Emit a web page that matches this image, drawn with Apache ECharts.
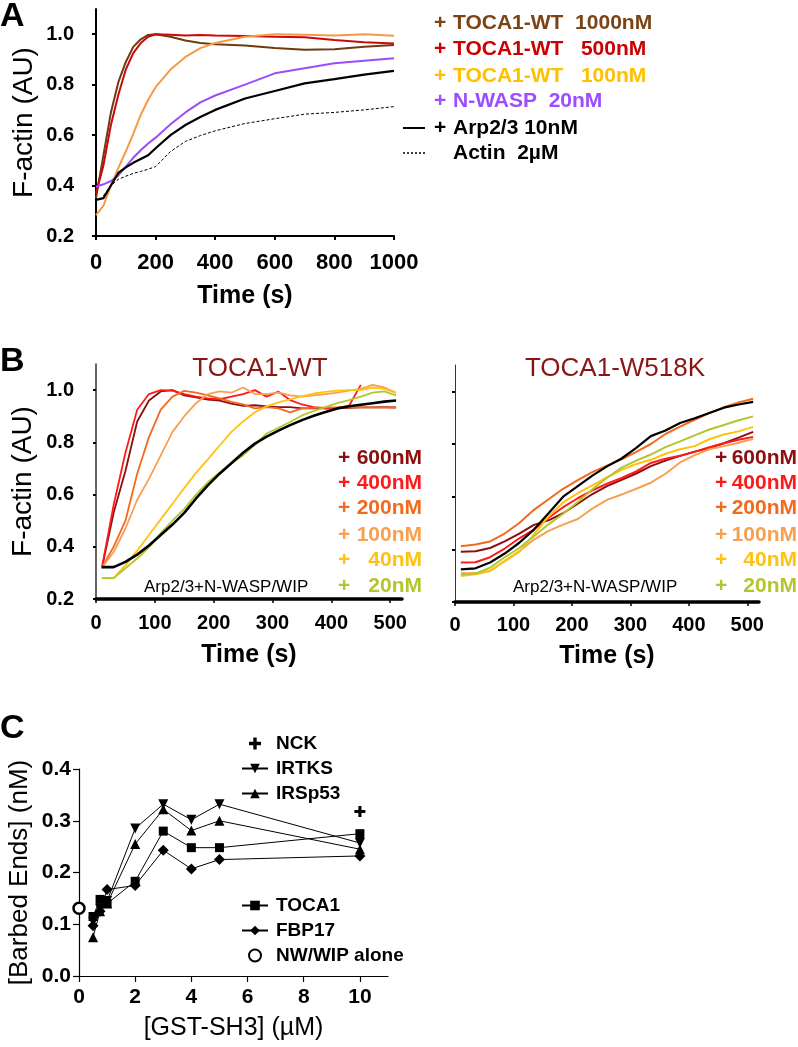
<!DOCTYPE html>
<html>
<head>
<meta charset="utf-8">
<script src="https://cdn.jsdelivr.net/npm/echarts@6/dist/echarts.min.js"></script>
<style>
  html, body { margin: 0; padding: 0; background: #fff; }
  #main { width: 798px; height: 1047px; }
</style>
</head>
<body>
<div id="main"></div>
<script>
// ---- panel A : time course, 0-1000 s
const aTime = [0, 25, 50, 75, 100, 125, 150, 175, 200, 250, 300, 350, 400, 500, 600, 700, 800, 900, 1000];
const aToca1000 = [0.35, 0.52, 0.69, 0.81, 0.89, 0.95, 0.98, 0.997, 1.0, 0.99, 0.975, 0.965, 0.96, 0.955, 0.945, 0.938, 0.94, 0.95, 0.957];
const aToca500 = [0.37, 0.48, 0.64, 0.76, 0.86, 0.925, 0.965, 0.99, 1.0, 0.998, 0.995, 0.997, 0.995, 0.993, 0.99, 0.988, 0.977, 0.968, 0.963];
const aToca100 = [0.283, 0.32, 0.4, 0.47, 0.535, 0.605, 0.68, 0.74, 0.79, 0.86, 0.91, 0.945, 0.965, 0.99, 1.0, 0.998, 0.995, 1.0, 0.994];
const aNwasp = [0.395, 0.405, 0.418, 0.44, 0.475, 0.51, 0.54, 0.567, 0.59, 0.643, 0.69, 0.73, 0.757, 0.8, 0.845, 0.865, 0.885, 0.895, 0.905];
const aArp = [0.343, 0.35, 0.4, 0.45, 0.472, 0.49, 0.505, 0.52, 0.548, 0.6, 0.64, 0.672, 0.7, 0.745, 0.775, 0.805, 0.822, 0.84, 0.855];
const aActin = [null, 0.36, 0.4, 0.425, 0.437, 0.448, 0.456, 0.465, 0.475, 0.535, 0.575, 0.598, 0.617, 0.646, 0.665, 0.683, 0.69, 0.7, 0.713];
const aNames = ['TOCA1-WT  1000nM', 'TOCA1-WT   500nM', 'TOCA1-WT   100nM', 'N-WASP  20nM', 'Arp2/3 10nM', 'Actin  2µM'];

// ---- panel B left : TOCA1-WT
const bTime = [10, 30, 50, 70, 90, 110, 130, 150, 170, 190, 210, 230, 250, 270, 290, 310, 330, 350, 370, 390, 410, 430, 450, 470, 490, 510];
const wt600 = [0.318, 0.53, 0.69, 0.88, 0.96, 0.995, 1.0, 0.98, 0.972, 0.964, 0.96, 0.948, 0.94, 0.942, 0.938, 0.935, 0.935, 0.93, 0.93, 0.93, 0.93, 0.932, 0.934, 0.934, 0.935, 0.934];
const wt400 = [0.32, 0.56, 0.76, 0.925, 0.985, 1.0, 0.998, 0.985, 0.975, 0.968, 0.965, 0.975, 0.985, 1.0, 0.975, 0.994, 0.962, 0.945, 0.935, 0.93, 0.93, 0.94, 1.02, null, null, null];
const wt200 = [0.32, 0.4, 0.5, 0.68, 0.82, 0.925, 0.975, 0.997, 0.99, 0.98, 0.968, 0.955, 0.945, 0.93, 0.935, 0.93, 0.915, 0.93, 0.932, 0.934, 0.934, 0.934, 0.934, 0.934, 0.934, 0.932];
const wt100 = [0.32, 0.38, 0.47, 0.58, 0.66, 0.75, 0.84, 0.9, 0.95, 0.985, 0.995, 0.99, 1.01, 0.985, 0.985, 0.99, 0.98, 0.975, 0.98, 0.985, 0.99, 0.998, 1.005, 1.02, 1.01, 0.99];
const wt40 = [0.28, 0.28, 0.33, 0.385, 0.445, 0.505, 0.565, 0.625, 0.683, 0.735, 0.788, 0.84, 0.88, 0.915, 0.938, 0.953, 0.965, 0.976, 0.987, 0.993, 0.998, 1.0, 1.0, 1.01, 1.005, 0.99];
const wt20 = [0.28, 0.28, 0.318, 0.355, 0.398, 0.452, 0.5, 0.545, 0.6, 0.647, 0.685, 0.72, 0.75, 0.79, 0.834, 0.856, 0.878, 0.903, 0.92, 0.935, 0.95, 0.962, 0.975, 0.99, 0.995, 0.98];
const wtBase = [0.322, 0.322, 0.342, 0.37, 0.405, 0.445, 0.485, 0.53, 0.585, 0.635, 0.68, 0.72, 0.76, 0.795, 0.822, 0.845, 0.866, 0.885, 0.902, 0.916, 0.93, 0.938, 0.944, 0.95, 0.956, 0.96];

// ---- panel B right : TOCA1-W518K
const kTime = [10, 35, 60, 85, 110, 135, 160, 185, 210, 235, 260, 285, 310, 335, 360, 385, 410, 435, 460, 485, 510];
const wk600 = [0.391, 0.393, 0.405, 0.43, 0.46, 0.493, 0.51, 0.537, 0.573, 0.61, 0.64, 0.664, 0.688, 0.716, 0.737, 0.755, 0.771, 0.785, 0.803, 0.824, 0.846];
const wk400 = [0.35, 0.351, 0.37, 0.403, 0.442, 0.475, 0.52, 0.56, 0.594, 0.624, 0.649, 0.671, 0.696, 0.728, 0.744, 0.755, 0.77, 0.788, 0.803, 0.816, 0.827];
const wk200 = [0.412, 0.418, 0.43, 0.46, 0.5, 0.55, 0.59, 0.63, 0.663, 0.693, 0.718, 0.742, 0.77, 0.8, 0.838, 0.866, 0.892, 0.917, 0.94, 0.958, 0.972];
const wk100 = [0.309, 0.309, 0.318, 0.355, 0.393, 0.437, 0.47, 0.494, 0.515, 0.555, 0.588, 0.608, 0.63, 0.653, 0.687, 0.73, 0.758, 0.78, 0.792, 0.805, 0.82];
const wk40 = [0.299, 0.305, 0.318, 0.355, 0.39, 0.457, 0.525, 0.578, 0.613, 0.643, 0.673, 0.702, 0.724, 0.74, 0.763, 0.78, 0.792, 0.818, 0.836, 0.848, 0.865];
const wk20 = [0.305, 0.308, 0.33, 0.37, 0.405, 0.45, 0.495, 0.535, 0.58, 0.628, 0.672, 0.71, 0.737, 0.76, 0.788, 0.81, 0.833, 0.855, 0.872, 0.89, 0.905];
const wkBase = [0.324, 0.328, 0.35, 0.384, 0.425, 0.475, 0.537, 0.6, 0.64, 0.68, 0.715, 0.745, 0.785, 0.83, 0.851, 0.88, 0.898, 0.918, 0.938, 0.95, 0.96];
const concs = ['600nM', '400nM', '200nM', '100nM', '40nM', '20nM'];

// ---- panel C : barbed ends vs GST-SH3
const cDose = [0.5, 0.75, 1, 2, 3, 4, 5, 10];
const cToca1 = [0.115, 0.148, 0.14, 0.183, 0.28, 0.248, 0.248, 0.275];
const cFbp17 = [0.097, 0.125, 0.167, 0.175, 0.243, 0.207, 0.225, 0.232];
const cIrtks = [0.105, 0.13, 0.145, 0.285, 0.332, 0.302, 0.332, 0.257];
const cIrsp53 = [0.075, 0.125, 0.14, 0.255, 0.322, 0.281, 0.3, 0.245];
const cNck = [[10, 0.318]];
const cAlone = [[0, 0.131]];

const FONT = '"Liberation Sans", Arial, sans-serif';
const aColors = ['#6e3b12', '#c80a0a', '#f79a46', '#9b4dfb'];
const aTextColors = ['#7a4416', '#cc0000', '#ffc000', '#9b4dff'];
const bColors = ['#8c0e0e', '#ff1a1a', '#f36a1e', '#f7a050', '#ffc20e', '#b3c62e'];

const zip = (t, v) => t.map((x, i) => [x, v[i]]);

const chart = echarts.init(document.getElementById('main'));

function valueAxis(gi, o) {
  return Object.assign({
    type: 'value', gridIndex: gi,
    axisLine: { onZero: false, lineStyle: { color: '#000', width: 2 } },
    axisTick: { lineStyle: { color: '#000', width: 2 }, length: 4 },
    splitLine: { show: false },
    axisLabel: { color: '#000', fontFamily: FONT, fontWeight: 'bold', fontSize: 20 },
    nameTextStyle: { color: '#000', fontFamily: FONT }
  }, o);
}

const yTicksAB = [0.2, 0.4, 0.6, 0.8, 1.0];
const bxTicks = [0, 100, 200, 300, 400, 500];

const series = [];
const lineS = (name, x, y, data, color, w, extra) => Object.assign({
  name, type: 'line', xAxisIndex: x, yAxisIndex: y, data,
  showSymbol: false, symbol: 'none', lineStyle: { color, width: w }, itemStyle: { color },
  z: 3
}, extra || {});

// panel A
[aToca1000, aToca500, aToca100, aNwasp].forEach((v, i) => series.push(lineS(aNames[i], 0, 0, zip(aTime, v), aColors[i], 2)));
series.push(lineS(aNames[4], 0, 0, zip(aTime, aArp), '#000', 2.2));
series.push(lineS(aNames[5], 0, 0, zip(aTime, aActin), '#000', 1, { lineStyle: { color: '#000', width: 1, type: [3, 2] } }));

// panel B left
[wt600, wt400, wt200, wt100, wt40, wt20].forEach((v, i) => series.push(lineS('WT ' + concs[i], 1, 1, zip(bTime, v), bColors[i], 1.8)));
series.push(lineS('WT base', 1, 1, zip(bTime, wtBase), '#000', 2.6));

// panel B right
[wk600, wk400, wk200, wk100, wk40, wk20].forEach((v, i) => series.push(lineS('K ' + concs[i], 2, 2, zip(kTime, v), bColors[i], 2)));
series.push(lineS('K base', 2, 2, zip(kTime, wkBase), '#000', 2.2));

// panel C
const downTri = 'path://M0,0L10,0L5,9Z';
const plus = 'path://M3.6,0H6.4V3.6H10V6.4H6.4V10H3.6V6.4H0V3.6H3.6Z';
const cLine = (name, v, symbol, size) => ({
  name, type: 'line', xAxisIndex: 3, yAxisIndex: 3, data: zip(cDose, v),
  symbol, symbolSize: size, showSymbol: true,
  lineStyle: { color: '#000', width: 1 }, itemStyle: { color: '#000', opacity: 1 }
});
series.push(cLine('IRTKS', cIrtks, downTri, 10));
series.push(cLine('IRSp53', cIrsp53, 'triangle', 10));
series.push(cLine('TOCA1', cToca1, 'rect', 9));
series.push(cLine('FBP17', cFbp17, 'diamond', 11));
series.push({ name: 'NCK', type: 'scatter', xAxisIndex: 3, yAxisIndex: 3, data: cNck, symbol: plus, symbolSize: 11,
  itemStyle: { color: '#000', opacity: 1 } });
series.push({ name: 'NW/WIP alone', type: 'scatter', xAxisIndex: 3, yAxisIndex: 3, data: cAlone, symbol: 'circle', symbolSize: 11,
  itemStyle: { color: '#fff', borderColor: '#000', borderWidth: 2.5, opacity: 1 }, z: 5 });

// text pieces drawn as graphics
const graphic = [];
const txt = (x, y, text, style) => graphic.push({ type: 'text', x, y, style: Object.assign({ text, fontFamily: FONT }, style) });

txt(0, 0, 'A', { fontSize: 34, fontWeight: 'bold', fill: '#000' });
txt(0, 345, 'B', { fontSize: 34, fontWeight: 'bold', fill: '#000' });
txt(0, 712, 'C', { fontSize: 34, fontWeight: 'bold', fill: '#000' });

// panel A legend
const aRowY = [23, 49, 76, 101, 128, 153];
aNames.forEach((n, i) => {
  const col = i < 4 ? aTextColors[i] : '#000';
  if (i < 5) txt(434, aRowY[i], '+', { fontSize: 21, fontWeight: 'bold', fill: col, verticalAlign: 'middle' });
  txt(453, aRowY[i], n, { fontSize: 21, fontWeight: 'bold', fill: col, verticalAlign: 'middle' });
});
graphic.push({ type: 'line', shape: { x1: 403, y1: aRowY[4], x2: 425, y2: aRowY[4] }, style: { stroke: '#000', lineWidth: 2 } });
graphic.push({ type: 'line', shape: { x1: 403, y1: aRowY[5], x2: 425, y2: aRowY[5] }, style: { stroke: '#000', lineWidth: 1.5, lineDash: [2, 2] } });

// panel B legends
const bRowY = [458, 483, 508, 535, 560, 586];
concs.forEach((c, i) => {
  [[338, 422], [715, 797]].forEach(([px, rx]) => {
    txt(px, bRowY[i], '+', { fontSize: 21, fontWeight: 'bold', fill: bColors[i], verticalAlign: 'middle' });
    txt(rx, bRowY[i], c, { fontSize: 21, fontWeight: 'bold', fill: bColors[i], verticalAlign: 'middle', align: 'right' });
  });
});
txt(144, 587, 'Arp2/3+N-WASP/WIP', { fontSize: 17, fill: '#000', verticalAlign: 'middle' });
txt(513, 587, 'Arp2/3+N-WASP/WIP', { fontSize: 17, fill: '#000', verticalAlign: 'middle' });

const option = {
  animation: false,
  backgroundColor: '#fff',
  textStyle: { fontFamily: FONT },
  title: [
    { text: 'TOCA1-WT', left: 255, top: 351, textAlign: 'center', textStyle: { fontFamily: FONT, fontSize: 26, fontWeight: 'normal', color: '#8b1515' } },
    { text: 'TOCA1-W518K', left: 610, top: 351, textAlign: 'center', textStyle: { fontFamily: FONT, fontSize: 26, fontWeight: 'normal', color: '#8b1515' } }
  ],
  grid: [
    { left: 96, top: 9, width: 298, height: 227 },
    { left: 96, top: 364, width: 306, height: 235 },
    { left: 455, top: 365, width: 304, height: 237 },
    { left: 79, top: 769, width: 309, height: 207 }
  ],
  xAxis: [
    valueAxis(0, { min: 0, max: 1000, interval: 200,
      axisLabel: { formatter: v => String(v), color: '#000', fontFamily: FONT, fontWeight: 'bold', fontSize: 22, margin: 16 },
      name: 'Time (s)', nameLocation: 'middle', nameGap: 48, nameTextStyle: { color: '#000', fontFamily: FONT, fontWeight: 'bold', fontSize: 25 } }),
    valueAxis(1, { min: 0, max: 520,
      axisLine: { onZero: false, lineStyle: { color: '#000', width: 3.5 } },
      axisTick: { customValues: bxTicks, length: 4, lineStyle: { color: '#000', width: 1.5 } },
      axisLabel: { customValues: bxTicks, color: '#000', fontFamily: FONT, fontWeight: 'bold', fontSize: 20, margin: 14 },
      name: 'Time (s)', nameLocation: 'middle', nameGap: 44, nameTextStyle: { color: '#000', fontFamily: FONT, fontWeight: 'bold', fontSize: 25 } }),
    valueAxis(2, { min: 0, max: 520,
      axisLine: { onZero: false, lineStyle: { color: '#000', width: 3.5 } },
      axisTick: { customValues: bxTicks, length: 4, lineStyle: { color: '#000', width: 1.5 } },
      axisLabel: { customValues: bxTicks, color: '#000', fontFamily: FONT, fontWeight: 'bold', fontSize: 20, margin: 13 },
      name: 'Time (s)', nameLocation: 'middle', nameGap: 42, nameTextStyle: { color: '#000', fontFamily: FONT, fontWeight: 'bold', fontSize: 25 } }),
    valueAxis(3, { min: 0, max: 11,
      axisLine: { onZero: false, lineStyle: { color: '#000', width: 1.2 } },
      axisTick: { customValues: [0, 2, 4, 6, 8, 10], length: 6, lineStyle: { color: '#000', width: 1.2 } },
      axisLabel: { customValues: [0, 2, 4, 6, 8, 10], color: '#000', fontFamily: FONT, fontWeight: 'bold', fontSize: 21, margin: 11 },
      name: '[GST-SH3] (µM)', nameLocation: 'middle', nameGap: 40, nameTextStyle: { color: '#000', fontFamily: FONT, fontSize: 25 } })
  ],
  yAxis: [
    valueAxis(0, { min: 0.2, max: 1.1,
      axisTick: { customValues: yTicksAB, length: 4, lineStyle: { color: '#000', width: 2 } },
      axisLabel: { customValues: yTicksAB, formatter: v => v.toFixed(1), color: '#000', fontFamily: FONT, fontWeight: 'bold', fontSize: 20, margin: 22 },
      name: 'F-actin (AU)', nameLocation: 'middle', nameGap: 58, nameTextStyle: { color: '#000', fontFamily: FONT, fontSize: 28 } }),
    valueAxis(1, { min: 0.2, max: 1.1,
      axisLine: { onZero: false, lineStyle: { color: '#333', width: 1.5 } },
      axisTick: { customValues: yTicksAB, length: 3, lineStyle: { color: '#000', width: 2 } },
      axisLabel: { customValues: yTicksAB, formatter: v => v.toFixed(1), color: '#000', fontFamily: FONT, fontWeight: 'bold', fontSize: 20, margin: 22 },
      name: 'F-actin (AU)', nameLocation: 'middle', nameGap: 59, nameTextStyle: { color: '#000', fontFamily: FONT, fontSize: 28 } }),
    valueAxis(2, { min: 0.2, max: 1.1,
      axisLine: { onZero: false, lineStyle: { color: '#333', width: 1 } },
      axisTick: { customValues: yTicksAB, length: 3, lineStyle: { color: '#000', width: 2 } },
      axisLabel: { show: false } }),
    valueAxis(3, { min: 0, max: 0.4, interval: 0.1,
      axisLine: { onZero: false, lineStyle: { color: '#000', width: 1.2 } },
      axisTick: { length: 6, lineStyle: { color: '#000', width: 1.2 } },
      axisLabel: { formatter: v => v.toFixed(1), color: '#000', fontFamily: FONT, fontWeight: 'bold', fontSize: 21, margin: 8 },
      name: '[Barbed Ends] (nM)', nameLocation: 'middle', nameGap: 46, nameTextStyle: { color: '#000', fontFamily: FONT, fontSize: 26 } })
  ],
  legend: [
    { orient: 'vertical', left: 236, top: 729, itemWidth: 26, itemHeight: 12, itemGap: 6,
      data: ['NCK', 'IRTKS', 'IRSp53'],
      textStyle: { fontFamily: FONT, fontSize: 19, fontWeight: 'bold', color: '#000', padding: [0, 0, 0, 3] } },
    { orient: 'vertical', left: 236, top: 891, itemWidth: 26, itemHeight: 12, itemGap: 6,
      data: ['TOCA1', 'FBP17', 'NW/WIP alone'],
      textStyle: { fontFamily: FONT, fontSize: 19, fontWeight: 'bold', color: '#000', padding: [0, 0, 0, 3] } }
  ],
  graphic,
  series
};

chart.setOption(option);
</script>
</body>
</html>
